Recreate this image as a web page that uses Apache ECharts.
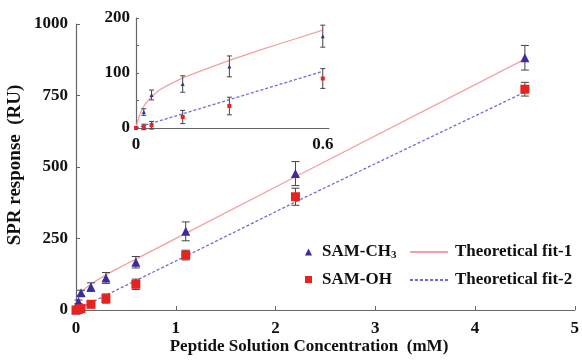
<!DOCTYPE html>
<html>
<head>
<meta charset="utf-8">
<script src="https://cdn.jsdelivr.net/npm/echarts@6/dist/echarts.min.js"></script>
<style>html,body{margin:0;padding:0;background:#fff}#c{width:582px;height:362px}</style>
</head>
<body>
<div id="c"></div>
<script>
// ---- data ----
const conc = [0, 0.025, 0.05, 0.15, 0.3, 0.6, 1.1, 2.2, 4.5];          // mM
const ch3 = [0, 29, 60, 80, 112, 167, 275, 477, 882];                   // RU
const ch3Err = [0, 6, 9, 15, 19, 20, 33, 42, 43];
const oh = [0, 2, 5, 20, 40, 90, 192, 396, 772];
const ohErr = [0, 5, 7, 12, 16, 18, 17, 30, 24];
const fit1X = [0, 0.005, 0.01, 0.02, 0.03, 0.05, 0.075, 0.1, 0.15, 0.2, 0.3, 0.4, 0.5, 0.6, 1.1, 2.2, 4.5];
const fit1Y = [0, 12, 21, 35, 44, 57, 69, 77, 91, 102, 123, 142, 160, 178, 268, 466, 877];
const fit2X = [0, 0.6, 1.1, 2.2, 4.5];
const fit2Y = [0, 103, 188, 378, 762];
const xTicks = [0, 1, 2, 3, 4, 5];
const yTicks = [0, 250, 500, 750, 1000];

const FONT = "'Liberation Serif','Times New Roman',serif";
const AX = '#666';
const C_CH3 = '#3b2c9c', C_OH = '#e8231f', C_F1 = '#f5a0a0', C_F2 = '#6c6ce0';
const FS = 17;

const zip = (a, b) => a.map((v, i) => [v, b[i]]);
const errData = (vals, errs) => conc.map((x, i) => [x, vals[i] - errs[i], vals[i] + errs[i]]);
const upTo = (arr, lim) => arr.filter(d => d[0] <= lim + 1e-9);

function errRender(cap, color) {
  return function (params, api) {
    const x = api.value(0), lo = api.value(1), hi = api.value(2);
    if (hi - lo <= 0) return;
    const a = api.coord([x, lo]), b = api.coord([x, hi]);
    const st = { stroke: color, lineWidth: 1 };
    return { type: 'group', children: [
      { type: 'line', shape: { x1: a[0], y1: a[1], x2: b[0], y2: b[1] }, style: st },
      { type: 'line', shape: { x1: a[0] - cap, y1: a[1], x2: a[0] + cap, y2: a[1] }, style: st },
      { type: 'line', shape: { x1: b[0] - cap, y1: b[1], x2: b[0] + cap, y2: b[1] }, style: st }
    ]};
  };
}

const lbl = { fontFamily: FONT, fontWeight: 'bold', fontSize: FS, color: '#111' };

const option = {
  animation: false,
  backgroundColor: '#fff',
  grid: [
    { left: 76, right: 4, top: 24, bottom: 52 },
    { left: 136, width: 193, top: 18, height: 110 }
  ],
  xAxis: [
    { gridIndex: 0, type: 'value', min: 0, max: 5, interval: 1,
      axisLine: { lineStyle: { color: AX, width: 1.2 } },
      axisTick: { inside: true, length: 4, lineStyle: { color: AX } },
      axisLabel: Object.assign({ margin: 10, formatter: v => String(v) }, lbl),
      splitLine: { show: false } },
    { gridIndex: 1, type: 'value', min: 0, max: 0.62, interval: 0.3,
      axisLine: { lineStyle: { color: AX, width: 1.2 } },
      axisTick: { show: false },
      axisLabel: Object.assign({ margin: 8, showMaxLabel: false,
        formatter: v => (v === 0 ? '0' : (Math.abs(v - 0.6) < 1e-6 ? '0.6' : '')) }, lbl),
      splitLine: { show: false } }
  ],
  yAxis: [
    { gridIndex: 0, type: 'value', min: 0, max: 1000, interval: 250,
      axisLine: { show: true, lineStyle: { color: AX, width: 1.2 } },
      axisTick: { show: true, inside: true, length: 4, lineStyle: { color: AX } },
      axisLabel: Object.assign({ margin: 8, formatter: v => String(v) }, lbl),
      splitLine: { show: false } },
    { gridIndex: 1, type: 'value', min: 0, max: 200, interval: 50,
      axisLine: { show: true, lineStyle: { color: AX, width: 1.2 } },
      axisTick: { show: true, inside: true, length: 3, lineStyle: { color: AX } },
      axisLabel: Object.assign({ margin: 6, formatter: v => (v % 100 === 0 ? String(v) : '') }, lbl),
      splitLine: { show: false } }
  ],
  legend: [
    { orient: 'vertical', left: 300, top: 238, itemWidth: 7, itemHeight: 7, itemGap: 10, itemSymbolKeepAspect: true,
      data: ['SAM-CH3', 'SAM-OH'],
      formatter: n => n === 'SAM-CH3' ? '{a|SAM-CH}{s|3}' : '{a|' + n + '}',
      textStyle: { padding: [0, 0, 0, 5], rich: {
        a: { fontFamily: FONT, fontWeight: 'bold', fontSize: FS, color: '#111', lineHeight: 18 },
        s: { fontFamily: FONT, fontWeight: 'bold', fontSize: 11, color: '#111', lineHeight: 18, verticalAlign: 'bottom', padding: [7, 0, 0, 0] } } } },
    { orient: 'vertical', left: 404, top: 238, itemWidth: 38, itemHeight: 10, itemGap: 10,
      itemStyle: { opacity: 0 },
      data: ['Theoretical fit-1', 'Theoretical fit-2'],
      textStyle: { fontFamily: FONT, fontWeight: 'bold', fontSize: FS, color: '#111', padding: [0, 0, 0, 2], lineHeight: 18 } }
  ],
  graphic: [
    { type: 'text', x: 309, y: 347, style: { text: 'Peptide Solution Concentration  (mM)', fontFamily: FONT, fontWeight: 'bold', fontSize: FS, fill: '#111', align: 'center', verticalAlign: 'middle' } },
    { type: 'text', x: 15, y: 165, rotation: Math.PI / 2, style: { text: 'SPR response  (RU)', fontFamily: FONT, fontWeight: 'bold', fontSize: 19, fill: '#111', align: 'center', verticalAlign: 'middle' } }
  ],
  series: [
    { name: 'Theoretical fit-1', type: 'line', xAxisIndex: 0, yAxisIndex: 0, data: zip(fit1X, fit1Y), showSymbol: false, symbol: 'none',
      lineStyle: { color: C_F1, width: 1.3 }, itemStyle: { color: C_F1 }, z: 2 },
    { name: 'Theoretical fit-2', type: 'line', xAxisIndex: 0, yAxisIndex: 0, data: zip(fit2X, fit2Y), showSymbol: false, symbol: 'none',
      lineStyle: { color: C_F2, width: 1.3, type: [3, 2] }, itemStyle: { color: C_F2 }, z: 2 },
    { type: 'custom', xAxisIndex: 0, yAxisIndex: 0, data: errData(ch3, ch3Err), renderItem: errRender(4, '#444'), encode: { x: 0, y: [1, 2] }, z: 3, silent: true },
    { type: 'custom', xAxisIndex: 0, yAxisIndex: 0, data: errData(oh, ohErr), renderItem: errRender(4, '#444'), encode: { x: 0, y: [1, 2] }, z: 3, silent: true },
    { name: 'SAM-CH3', type: 'scatter', xAxisIndex: 0, yAxisIndex: 0, data: zip(conc, ch3), symbol: 'triangle', symbolSize: 9, itemStyle: { color: C_CH3, opacity: 1 }, z: 4 },
    { name: 'SAM-OH', type: 'scatter', xAxisIndex: 0, yAxisIndex: 0, data: zip(conc, oh), symbol: 'rect', symbolSize: 9, itemStyle: { color: C_OH, opacity: 1 }, z: 5 },
    // inset
    { name: 'Theoretical fit-1', type: 'line', xAxisIndex: 1, yAxisIndex: 1, data: upTo(zip(fit1X, fit1Y), 0.6), showSymbol: false, symbol: 'none',
      lineStyle: { color: C_F1, width: 1.3 }, itemStyle: { color: C_F1 }, z: 2 },
    { name: 'Theoretical fit-2', type: 'line', xAxisIndex: 1, yAxisIndex: 1, data: upTo(zip(fit2X, fit2Y), 0.6), showSymbol: false, symbol: 'none',
      lineStyle: { color: C_F2, width: 1.3, type: [3, 2] }, itemStyle: { color: C_F2 }, z: 2 },
    { type: 'custom', xAxisIndex: 1, yAxisIndex: 1, data: upTo(errData(ch3, ch3Err), 0.6), renderItem: errRender(2.5, '#444'), encode: { x: 0, y: [1, 2] }, z: 3, silent: true },
    { type: 'custom', xAxisIndex: 1, yAxisIndex: 1, data: upTo(errData(oh, ohErr), 0.6), renderItem: errRender(2.5, '#444'), encode: { x: 0, y: [1, 2] }, z: 3, silent: true },
    { name: 'SAM-CH3', type: 'scatter', xAxisIndex: 1, yAxisIndex: 1, data: upTo(zip(conc, ch3), 0.6), symbol: 'triangle', symbolSize: 4, itemStyle: { color: C_CH3, opacity: 1 }, z: 4 },
    { name: 'SAM-OH', type: 'scatter', xAxisIndex: 1, yAxisIndex: 1, data: upTo(zip(conc, oh), 0.6), symbol: 'rect', symbolSize: 4, itemStyle: { color: C_OH, opacity: 1 }, z: 5 }
  ]
};
echarts.init(document.getElementById('c'), null, { renderer: 'canvas' }).setOption(option);
</script>
</body>
</html>
